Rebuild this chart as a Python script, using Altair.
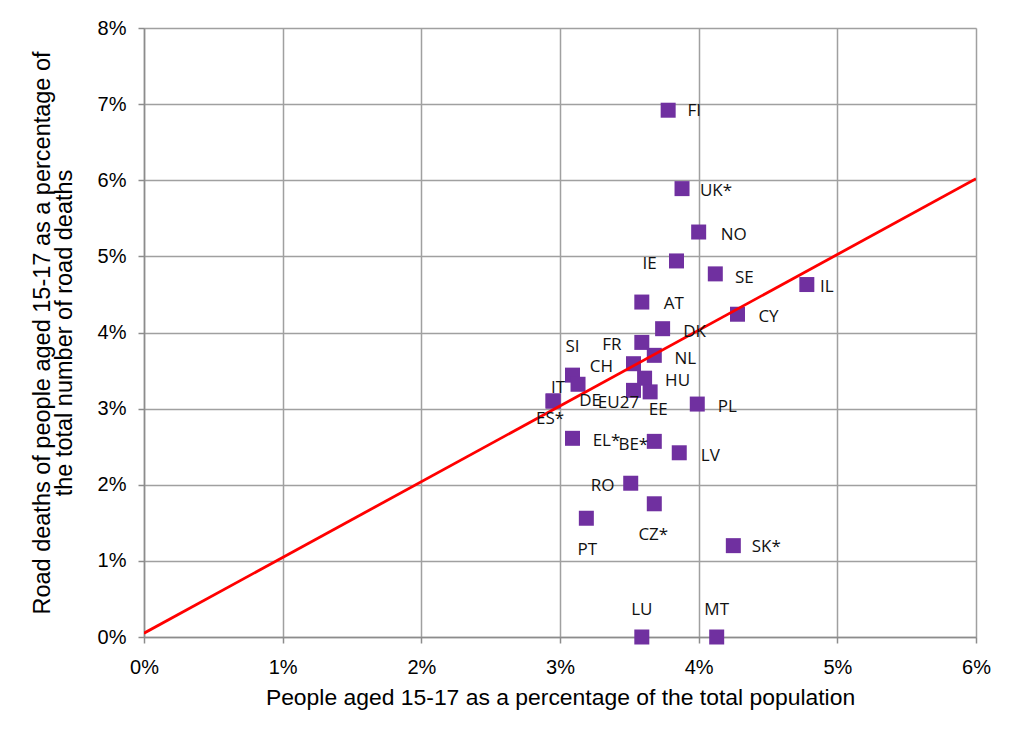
import altair as alt
import pandas as pd

countries = ["FI", "UK*", "NO", "IE", "SE", "IL", "AT", "CY", "DK", "FR", "NL", "CH",
             "SI", "DE", "HU", "EU27", "EE", "IT", "ES*", "PL", "EL*", "BE*", "LV",
             "RO", "CZ*", "PT", "SK*", "LU", "MT"]
pop_share = [3.78, 3.88, 4.00, 3.84, 4.12, 4.78, 3.59, 4.28, 3.74, 3.59, 3.68, 3.53,
             3.09, 3.13, 3.61, 3.53, 3.65, 2.95, 2.95, 3.99, 3.09, 3.68, 3.86,
             3.51, 3.68, 3.19, 4.25, 3.59, 4.13]
death_share = [6.92, 5.89, 5.32, 4.94, 4.77, 4.63, 4.40, 4.24, 4.05, 3.87, 3.70, 3.59,
               3.44, 3.32, 3.40, 3.24, 3.22, 3.10, 3.10, 3.06, 2.61, 2.57, 2.42,
               2.02, 1.75, 1.56, 1.20, 0.0, 0.0]
# label offsets from the marker, in pixels (right / down positive)
label_dx = [26, 34, 35, -27, 29, 20, 32, 31, 32, -30, 31, -32,
            0, 12, 33, -15, 8, 5, -3, 30, 34, -21, 31,
            -28, -1, 1, 33, 0, 0]
label_dy = [1, 2, 3, 3, 4, 2, 2, 3, 3, 3, 4, 3,
            -28, 17, 3, 13, 18, -13, 18, 3, 3, 4, 3,
            3, 31, 32, 1, -27, -27]

trend_x = [0.0, 6.0]
trend_y = [0.05, 6.02]

W, H = 832, 609
XMAX, YMAX = 0.06, 0.08

df = pd.DataFrame({
    "country": countries,
    "x": [v / 100 for v in pop_share],
    "y": [v / 100 for v in death_share],
    "dx": label_dx,
    "dy": label_dy,
})
trend = pd.DataFrame({"x": [v / 100 for v in trend_x], "y": [v / 100 for v in trend_y]})

xscale = alt.Scale(domain=[0, XMAX], nice=False, zero=True)
yscale = alt.Scale(domain=[0, YMAX], nice=False, zero=True)

common = dict(labelFont="Liberation Sans", labelFontSize=20, labelColor="black",
              labelFlush=False,
              titleFont="Liberation Sans", titleFontWeight="normal",
              titleColor="black",
              grid=True, gridColor="#A0A0A0", gridWidth=1.5,
              domainColor="#8C8C8C", domainWidth=1.5,
              tickColor="#8C8C8C", tickSize=6, tickWidth=1.5)

xaxis = alt.Axis(format=".0%", values=[0, 0.01, 0.02, 0.03, 0.04, 0.05, 0.06],
                 title="People aged 15-17 as a percentage of the total population",
                 titleFontSize=22.9, titlePadding=9, labelPadding=14, **common)
yaxis = alt.Axis(format=".0%", values=[0, 0.01, 0.02, 0.03, 0.04, 0.05, 0.06, 0.07, 0.08],
                 title=["Road deaths of people aged 15-17 as a percentage of",
                        "the total number of road deaths"],
                 titleFontSize=23.5, titlePadding=21, labelPadding=12, titleLineHeight=22,
                 **common)

points = alt.Chart(df).mark_square(size=225, color="#7030A0", opacity=1).encode(
    x=alt.X("x:Q", scale=xscale, axis=xaxis),
    y=alt.Y("y:Q", scale=yscale, axis=yaxis),
)

line = alt.Chart(trend).mark_line(color="#FF0000", strokeWidth=2.8, clip=True).encode(
    x=alt.X("x:Q", scale=xscale),
    y=alt.Y("y:Q", scale=yscale),
)

labels = alt.Chart(df).transform_calculate(
    lx=f"datum.x + datum.dx * {XMAX} / {W}",
    ly=f"datum.y - datum.dy * {YMAX} / {H}",
).mark_text(font="Open Sans", fontSize=17, color="#111111",
            align="center", baseline="middle").encode(
    x=alt.X("lx:Q", scale=xscale),
    y=alt.Y("ly:Q", scale=yscale),
    text="country:N",
)

chart = alt.layer(points, line, labels).properties(
    width=W, height=H,
    autosize=alt.AutoSizeParams(type="none"),
    padding={"left": 136, "top": 20, "right": 20, "bottom": 80},
).configure_view(stroke="#A0A0A0", strokeWidth=1.5).configure(background="white")

chart.save("out.html", embed_options={"renderer": "svg", "actions": False})
